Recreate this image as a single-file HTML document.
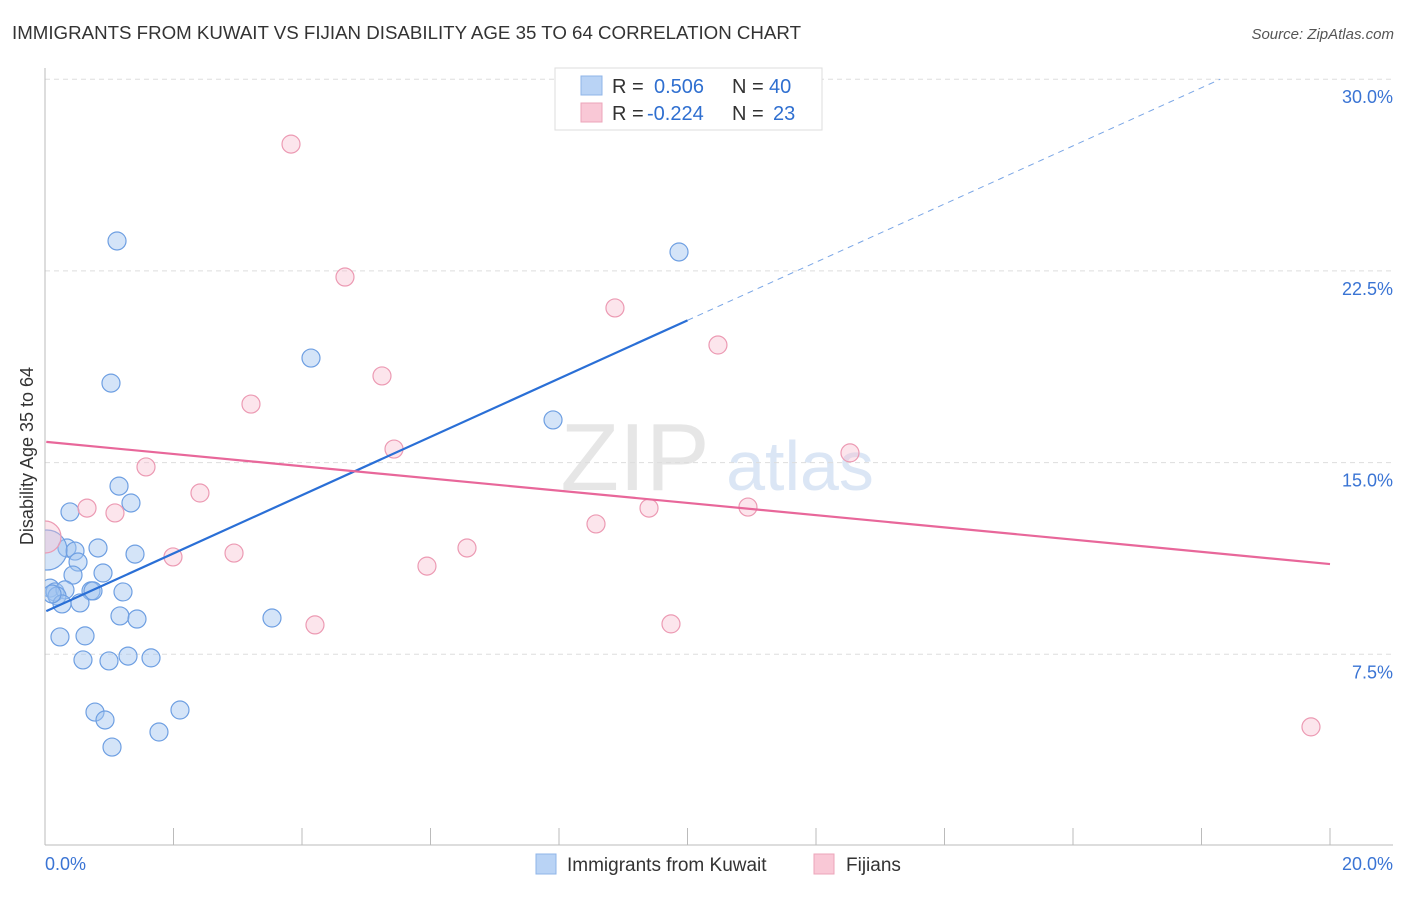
<!DOCTYPE html>
<html><head><meta charset="utf-8"><style>
body{margin:0;background:#fff;font-family:"Liberation Sans",sans-serif}
svg text{font-family:"Liberation Sans",sans-serif}
</style></head><body>
<svg id="c" width="1406" height="892">
<defs><clipPath id="pc"><rect x="45" y="60" width="1360" height="785"/></clipPath></defs>
<text x="12" y="39" font-size="18" fill="#333" textLength="789" lengthAdjust="spacingAndGlyphs">IMMIGRANTS FROM KUWAIT VS FIJIAN DISABILITY AGE 35 TO 64 CORRELATION CHART</text>
<text x="1394" y="39" font-size="15" fill="#555" font-style="italic" text-anchor="end">Source: ZipAtlas.com</text>
<text x="33" y="456" font-size="18" fill="#333" text-anchor="middle" transform="rotate(-90 33 456)">Disability Age 35 to 64</text>
<g><text x="635" y="490" font-size="96" fill="#e6e6e6" font-family="Liberation Serif" text-anchor="middle">ZIP</text><text x="800" y="490" font-size="70" fill="#dbe6f5" text-anchor="middle">atlas</text></g>
<g id="grid"></g><g id="axes"></g><g id="marks" clip-path="url(#pc)"></g>
<g>
<rect x="555" y="68" width="267" height="62" fill="#fff" stroke="#ddd"/>
<rect x="581" y="76" width="21" height="19" fill="#b9d3f5" stroke="#8fb4e8"/>
<rect x="581" y="103" width="21" height="19" fill="#f9c8d6" stroke="#eca5ba"/>
<text x="612" y="93" font-size="20" fill="#333">R = </text><text x="654" y="93" font-size="20" fill="#2f6fd0">0.506</text>
<text x="732" y="93" font-size="20" fill="#333">N = </text><text x="769" y="93" font-size="20" fill="#2f6fd0">40</text>
<text x="612" y="120" font-size="20" fill="#333">R = </text><text x="647" y="120" font-size="20" fill="#2f6fd0">-0.224</text>
<text x="732" y="120" font-size="20" fill="#333">N = </text><text x="773" y="120" font-size="20" fill="#2f6fd0">23</text>
</g>
<g>
<rect x="536" y="854" width="20" height="20" fill="#b9d3f5" stroke="#8fb4e8"/>
<text x="567" y="871" font-size="19" fill="#333">Immigrants from Kuwait</text>
<rect x="814" y="854" width="20" height="20" fill="#f9c8d6" stroke="#eca5ba"/>
<text x="846" y="871" font-size="19" fill="#333">Fijians</text>
</g>
</svg>
<script>
const xTicks=[0,20];
const yTicks=[7.5,15,22.5,30];
const blueX=[1.121,9.868,4.140,1.027,7.907,1.152,1.338,0.389,0.342,0.467,0.825,1.401,0.514,0.436,0.903,0.078,0.156,0.311,0.716,0.747,1.214,0.187,0.265,0.545,1.167,1.432,3.533,0.233,0.623,0.591,0.996,1.292,1.650,0.778,0.934,2.101,1.043,1.774,0.031,0.109];
const blueY=[23.67,23.24,19.09,18.11,16.67,14.08,13.42,13.07,11.66,11.54,11.66,11.42,11.11,10.60,10.68,10.09,9.94,10.02,9.98,9.98,9.94,9.78,9.47,9.51,9.00,8.88,8.92,8.18,8.22,7.28,7.24,7.43,7.36,5.24,4.93,5.32,3.87,4.46,11.58,9.86];
const blueBig=[38];
const pinkX=[3.829,4.669,8.871,10.474,5.245,3.206,5.432,12.529,1.572,2.412,0.654,1.089,9.401,10.941,8.576,0,1.992,2.942,6.568,5.945,4.202,9.743,19.704];
const pinkY=[27.46,22.26,21.05,19.60,18.39,17.29,15.53,15.38,14.83,13.81,13.22,13.03,13.22,13.26,12.60,12.09,11.31,11.46,11.66,10.95,8.65,8.69,4.66];
const pinkBig=[15];
const blueTrend=[9.19,1.1376];
const blueSolidEnd=10.0;
const pinkTrend=[15.81,-0.239];
const X=v=>45+v/20*1285, Y=v=>846-v/7.5*191.7;
const NS="http://www.w3.org/2000/svg";
function mk(p,t,a){const e=document.createElementNS(NS,t);for(const k in a)e.setAttribute(k,a[k]);document.getElementById(p).appendChild(e);return e;}
yTicks.forEach(t=>{
 const l=mk('grid','line',{x1:45,x2:1393,y1:Y(t),y2:Y(t),stroke:'#ddd','stroke-dasharray':'5,4'});
 
 
 const tx=mk('grid','text',{x:1393,y:Y(t)+24,'font-size':18,fill:'#3a74d4','text-anchor':'end'});
 tx.textContent=t.toFixed(1)+'%';
 
 
});
mk('axes','line',{x1:45,x2:45,y1:68,y2:845,stroke:'#bbb'});
mk('axes','line',{x1:45,x2:1393,y1:845,y2:845,stroke:'#bbb'});
for(let i=0;i<=10;i++){mk('axes','line',{x1:X(i*2),x2:X(i*2),y1:828,y2:845,stroke:'#bbb'});}
xTicks.forEach((t,i)=>{
 const tx=mk('axes','text',{x:i?1393:45,y:870,'font-size':18,fill:'#3a74d4','text-anchor':i?'end':'start'});
 tx.textContent=t.toFixed(1)+'%';
 
 
});
blueX.forEach((x,i)=>{
 const c=mk('marks','circle',{cx:X(x),cy:Y(blueY[i]),r:blueBig.includes(i)?20:9,fill:'rgba(160,195,240,0.45)',stroke:'#6e9fe2','stroke-width':1.2});
 
 
});
pinkX.forEach((x,i)=>{
 const c=mk('marks','circle',{cx:X(x),cy:Y(pinkY[i]),r:pinkBig.includes(i)?16:9,fill:'rgba(248,190,208,0.4)',stroke:'#ec9ab3','stroke-width':1.2});
 
 
});
const bEnd=(30-blueTrend[0])/blueTrend[1];
let t1=mk('marks','line',{x1:X(0.02),y1:Y(blueTrend[0]),x2:X(blueSolidEnd),y2:Y(blueTrend[0]+blueTrend[1]*blueSolidEnd),stroke:'#2a6fd6','stroke-width':2.2});


let t2=mk('marks','line',{x1:X(blueSolidEnd),y1:Y(blueTrend[0]+blueTrend[1]*blueSolidEnd),x2:X(bEnd),y2:Y(30),stroke:'#7aa6e6','stroke-width':1,'stroke-dasharray':'6,5'});


let t3=mk('marks','line',{x1:X(0.02),y1:Y(pinkTrend[0]),x2:X(20),y2:Y(pinkTrend[0]+pinkTrend[1]*20),stroke:'#e8679a','stroke-width':2.2});


</script>
</body></html>
